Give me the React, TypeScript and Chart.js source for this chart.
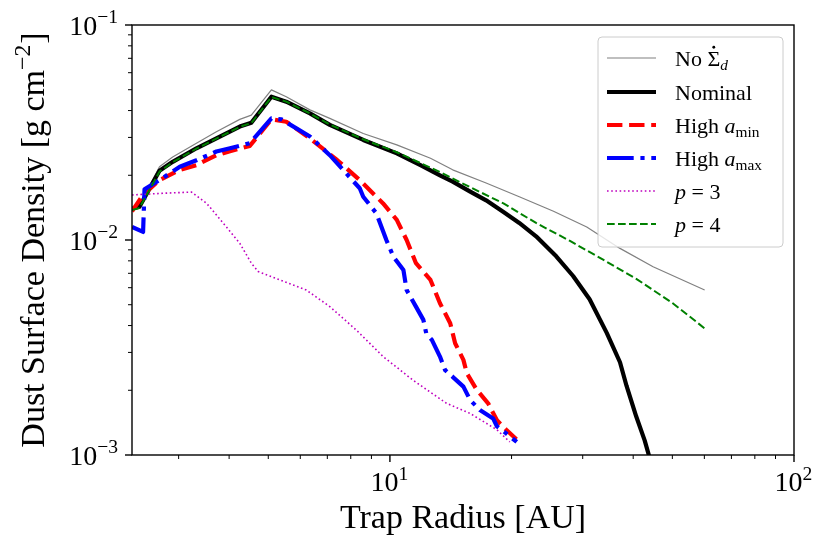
import { useEffect, useRef } from 'react';
import Chart from 'chart.js/auto';

// Values: trap radius [AU] and dust surface density [g cm^-2]
const noSinkR = [2.3, 2.4, 2.69, 2.9, 3.32, 3.72, 4.25, 4.54, 5.09, 5.54, 6.34, 7.1, 8.59, 10.4, 12.6, 14.3, 17.3, 20.9, 25.4, 30.7, 37.1, 44.8, 60.1];
const noSinkSigma = [0.0141, 0.0145, 0.0219, 0.0243, 0.0282, 0.0319, 0.0364, 0.0381, 0.0499, 0.0464, 0.0403, 0.0368, 0.0313, 0.0277, 0.0240, 0.0212, 0.0184, 0.0159, 0.0136, 0.0115, 0.00914, 0.00751, 0.00585];

const nominalR = [2.3, 2.4, 2.69, 2.9, 3.32, 3.72, 4.25, 4.54, 5.09, 5.54, 6.34, 7.1, 8.59, 10.4, 11.9, 13.3, 14.3, 15.8, 17.3, 19.1, 20.9, 23.0, 25.8, 28.4, 31.2, 34.4, 37.1, 38.5, 40.7, 42.7, 44.2];
const nominalSigma = [0.0140, 0.0143, 0.0210, 0.0231, 0.0267, 0.0297, 0.0337, 0.0351, 0.0464, 0.0440, 0.0388, 0.0343, 0.0292, 0.0253, 0.0223, 0.0200, 0.0187, 0.0168, 0.0153, 0.0135, 0.0120, 0.0104, 0.0084, 0.0068, 0.0053, 0.0037, 0.0027, 0.0021, 0.00151, 0.00117, 0.00093];

const highAminR = [2.3, 2.45, 2.69, 3.02, 3.32, 3.72, 4.02, 4.5, 5.09, 5.54, 6.34, 7.41, 8.42, 9.62, 10.4, 11.0, 11.6, 12.6, 13.3, 14.1, 14.5, 15.2, 15.5, 16.4, 17.5, 18.4, 19.4, 20.7];
const highAminSigma = [0.0136, 0.0162, 0.0190, 0.0212, 0.0223, 0.0248, 0.0259, 0.0274, 0.0364, 0.0355, 0.0297, 0.0235, 0.0190, 0.0148, 0.0124, 0.0100, 0.0078, 0.00652, 0.00508, 0.00410, 0.00331, 0.00277, 0.00240, 0.00201, 0.00174, 0.00145, 0.00131, 0.00117];

const highAmaxR = [2.3, 2.45, 2.47, 2.69, 3.02, 3.32, 3.72, 4.02, 4.5, 5.09, 5.39, 6.34, 7.1, 7.8, 8.42, 8.59, 9.26, 9.8, 10.2, 10.8, 11.0, 11.6, 12.1, 12.3, 12.7, 13.3, 13.7, 14.3, 15.2, 15.8, 16.7, 18.0, 18.4, 19.4, 20.6];
const highAmaxSigma = [0.0115, 0.0109, 0.0172, 0.0190, 0.0219, 0.0235, 0.0258, 0.0267, 0.0282, 0.0368, 0.0364, 0.0303, 0.0248, 0.0204, 0.0174, 0.0159, 0.0133, 0.0100, 0.00836, 0.00725, 0.00585, 0.00490, 0.00425, 0.00368, 0.00343, 0.00287, 0.00248, 0.00231, 0.00208, 0.00180, 0.00162, 0.00148, 0.00136, 0.00126, 0.00115];

const p3R = [2.3, 2.75, 3.23, 3.52, 3.94, 4.25, 4.54, 4.72, 5.34, 6.21, 7.1, 8.26, 9.62, 11.4, 13.8, 15.8, 18.4, 19.8];
const p3Sigma = [0.0162, 0.0165, 0.0167, 0.0148, 0.0115, 0.00966, 0.0078, 0.00713, 0.00652, 0.00585, 0.0049, 0.00381, 0.00287, 0.00223, 0.00174, 0.00156, 0.00131, 0.00115];

const p4R = [2.3, 2.4, 2.69, 2.9, 3.32, 3.72, 4.25, 4.54, 5.09, 5.54, 6.34, 7.1, 8.59, 10.4, 11.9, 13.3, 15.8, 19.1, 23.0, 27.9, 33.7, 40.7, 50.2, 60.1];
const p4Sigma = [0.0138, 0.0141, 0.0208, 0.0230, 0.0266, 0.0296, 0.0336, 0.0350, 0.0462, 0.0440, 0.0388, 0.0344, 0.0294, 0.0256, 0.0228, 0.0207, 0.0176, 0.0148, 0.0120, 0.0099, 0.0081, 0.0066, 0.00507, 0.00388];

// Axis ticks
const xMajorTicks = [10, 100];
const xMajorLabels = ['1', '2'];
const xMinorTicks = [3, 4, 5, 6, 7, 8, 9, 20, 30, 40, 50, 60, 70, 80, 90];
const yMajorTicks = [0.001, 0.01, 0.1];
const yMajorLabels = ['\u22123', '\u22122', '\u22121'];
const yMinorTicks = [0.002, 0.003, 0.004, 0.005, 0.006, 0.007, 0.008, 0.009, 0.02, 0.03, 0.04, 0.05, 0.06, 0.07, 0.08, 0.09];

const SERIF = '"Liberation Serif", "DejaVu Serif", serif';

type Part = { t: string; it?: boolean; sup?: boolean; sub?: boolean; dot?: boolean };

const legendLabels: Part[][] = [
  [{ t: 'No ' }, { t: '\u03A3', dot: true }, { t: 'd', it: true, sub: true }],
  [{ t: 'Nominal' }],
  [{ t: 'High ' }, { t: 'a', it: true }, { t: 'min', sub: true }],
  [{ t: 'High ' }, { t: 'a', it: true }, { t: 'max', sub: true }],
  [{ t: 'p', it: true }, { t: ' = 3' }],
  [{ t: 'p', it: true }, { t: ' = 4' }],
];

const series = [
  { label: 'No Sigma_d', xs: noSinkR, ys: noSinkSigma, color: '#808080', width: 1.2, dash: [] as number[], order: 6 },
  { label: 'Nominal', xs: nominalR, ys: nominalSigma, color: '#000000', width: 4.2, dash: [] as number[], order: 5 },
  { label: 'High a_min', xs: highAminR, ys: highAminSigma, color: '#ff0000', width: 4.2, dash: [15.4, 6.7], order: 4 },
  { label: 'High a_max', xs: highAmaxR, ys: highAmaxSigma, color: '#0000ff', width: 4.2, dash: [26.7, 6.7, 4.2, 6.7], order: 3 },
  { label: 'p = 3', xs: p3R, ys: p3Sigma, color: '#bf00bf', width: 1.6, dash: [1.6, 2.6], order: 2 },
  { label: 'p = 4', xs: p4R, ys: p4Sigma, color: '#008000', width: 2, dash: [7.7, 3.3], order: 1 },
];

function drawRich(ctx: CanvasRenderingContext2D, parts: Part[], x: number, y: number, size: number, measureOnly = false) {
  let cx = x;
  for (const p of parts) {
    const small = p.sup || p.sub;
    const s = small ? size * 0.7 : size;
    ctx.font = `${p.it ? 'italic ' : ''}${s}px ${SERIF}`;
    const dy = p.sup ? -size * 0.4 : p.sub ? size * 0.2 : 0;
    const w = ctx.measureText(p.t).width;
    if (!measureOnly) {
      ctx.fillText(p.t, cx, y + dy);
      if (p.dot) {
        ctx.beginPath();
        ctx.arc(cx + w / 2, y - size * 0.85, size * 0.065, 0, Math.PI * 2);
        ctx.fill();
      }
    }
    cx += w + (small ? 1 : 0);
  }
  return cx - x;
}

const axesPlugin = {
  id: 'mplAxes',
  afterDraw(chart: Chart) {
    const { ctx, chartArea: a } = chart;
    const xs = chart.scales.x;
    const ys = chart.scales.y;
    ctx.save();
    ctx.fillStyle = '#000';
    ctx.strokeStyle = '#000';
    ctx.textAlign = 'left';
    ctx.textBaseline = 'alphabetic';

    // ticks
    const tick = (x1: number, y1: number, x2: number, y2: number, w: number) => {
      ctx.lineWidth = w;
      ctx.beginPath();
      ctx.moveTo(x1, y1);
      ctx.lineTo(x2, y2);
      ctx.stroke();
    };
    xMinorTicks.forEach(v => {
      const px = xs.getPixelForValue(v);
      tick(px, a.bottom, px, a.bottom + 4, 1);
    });
    xMajorTicks.forEach(v => {
      const px = xs.getPixelForValue(v);
      tick(px, a.bottom, px, a.bottom + 7, 1.4);
    });
    yMinorTicks.forEach(v => {
      const py = ys.getPixelForValue(v);
      tick(a.left, py, a.left - 4, py, 1);
    });
    yMajorTicks.forEach(v => {
      const py = ys.getPixelForValue(v);
      tick(a.left, py, a.left - 7, py, 1.4);
    });

    // spines
    ctx.lineWidth = 1.4;
    ctx.strokeRect(a.left, a.top, a.right - a.left, a.bottom - a.top);

    // tick labels
    const tickSize = 28;
    xMajorTicks.forEach((v, i) => {
      const parts: Part[] = [{ t: '10' }, { t: xMajorLabels[i], sup: true }];
      const w = drawRich(ctx, parts, 0, 0, tickSize, true);
      const px = xs.getPixelForValue(v);
      drawRich(ctx, parts, px - w / 2, a.bottom + 36, tickSize);
    });
    yMajorTicks.forEach((v, i) => {
      const parts: Part[] = [{ t: '10' }, { t: yMajorLabels[i], sup: true }];
      const w = drawRich(ctx, parts, 0, 0, tickSize, true);
      const py = ys.getPixelForValue(v);
      drawRich(ctx, parts, a.left - 13 - w, py + 9.5, tickSize);
    });

    // axis titles
    const titleSize = 34;
    const xTitle: Part[] = [{ t: 'Trap Radius [AU]' }];
    const xw = drawRich(ctx, xTitle, 0, 0, titleSize, true);
    drawRich(ctx, xTitle, (a.left + a.right) / 2 - xw / 2, 528, titleSize);

    const yTitle: Part[] = [{ t: 'Dust Surface Density [g cm' }, { t: '\u22122', sup: true }, { t: ']' }];
    const yw = drawRich(ctx, yTitle, 0, 0, titleSize, true);
    ctx.save();
    ctx.translate(44, (a.top + a.bottom) / 2);
    ctx.rotate(-Math.PI / 2);
    drawRich(ctx, yTitle, -yw / 2, 0, titleSize);
    ctx.restore();

    // legend
    const lx = 598, ly = 37, lw = 185, lh = 210;
    ctx.beginPath();
    ctx.roundRect(lx, ly, lw, lh, 4);
    ctx.fillStyle = 'rgba(255,255,255,0.8)';
    ctx.fill();
    ctx.lineWidth = 1;
    ctx.strokeStyle = '#cccccc';
    ctx.stroke();

    const rowY = [58, 92, 125, 158, 191, 224];
    series.forEach((s, i) => {
      const y = rowY[i];
      ctx.strokeStyle = s.color;
      ctx.lineWidth = s.width;
      ctx.setLineDash(s.dash);
      ctx.lineCap = 'butt';
      ctx.beginPath();
      ctx.moveTo(607, y);
      ctx.lineTo(656, y);
      ctx.stroke();
      ctx.setLineDash([]);
      ctx.fillStyle = '#000';
      drawRich(ctx, legendLabels[i], 675, y + 8, 22);
    });

    ctx.restore();
  },
};

export default function App() {
  const canvasRef = useRef<HTMLCanvasElement | null>(null);
  const chartRef = useRef<Chart | null>(null);

  useEffect(() => {
    if (!canvasRef.current) return;
    const ctx = canvasRef.current.getContext('2d');
    if (!ctx) return;

    const datasets = series.map(s => ({
      label: s.label,
      data: s.xs.map((x, i) => ({ x, y: s.ys[i] })),
      borderColor: s.color,
      backgroundColor: s.color,
      borderWidth: s.width,
      borderDash: s.dash,
      borderCapStyle: 'butt' as const,
      borderJoinStyle: 'round' as const,
      tension: 0,
      fill: false,
      pointRadius: 0,
      order: s.order,
      clip: 0,
    }));

    chartRef.current = new Chart(ctx, {
      type: 'line',
      data: { datasets },
      options: {
        animation: false,
        responsive: false,
        layout: { padding: { left: 132, top: 25, right: 36, bottom: 100 } },
        scales: {
          x: { type: 'logarithmic', min: 2.3, max: 100, display: false },
          y: { type: 'logarithmic', min: 0.001, max: 0.1, display: false },
        },
        plugins: {
          legend: { display: false },
          tooltip: { enabled: false },
        },
      },
      plugins: [axesPlugin],
    });

    return () => {
      chartRef.current?.destroy();
      chartRef.current = null;
    };
  }, []);

  return (
    <div style={{ position: 'fixed', left: 0, top: 0, width: 830, height: 555, background: '#fff' }}>
      <canvas ref={canvasRef} width={830} height={555} style={{ width: 830, height: 555 }} />
    </div>
  );
}
